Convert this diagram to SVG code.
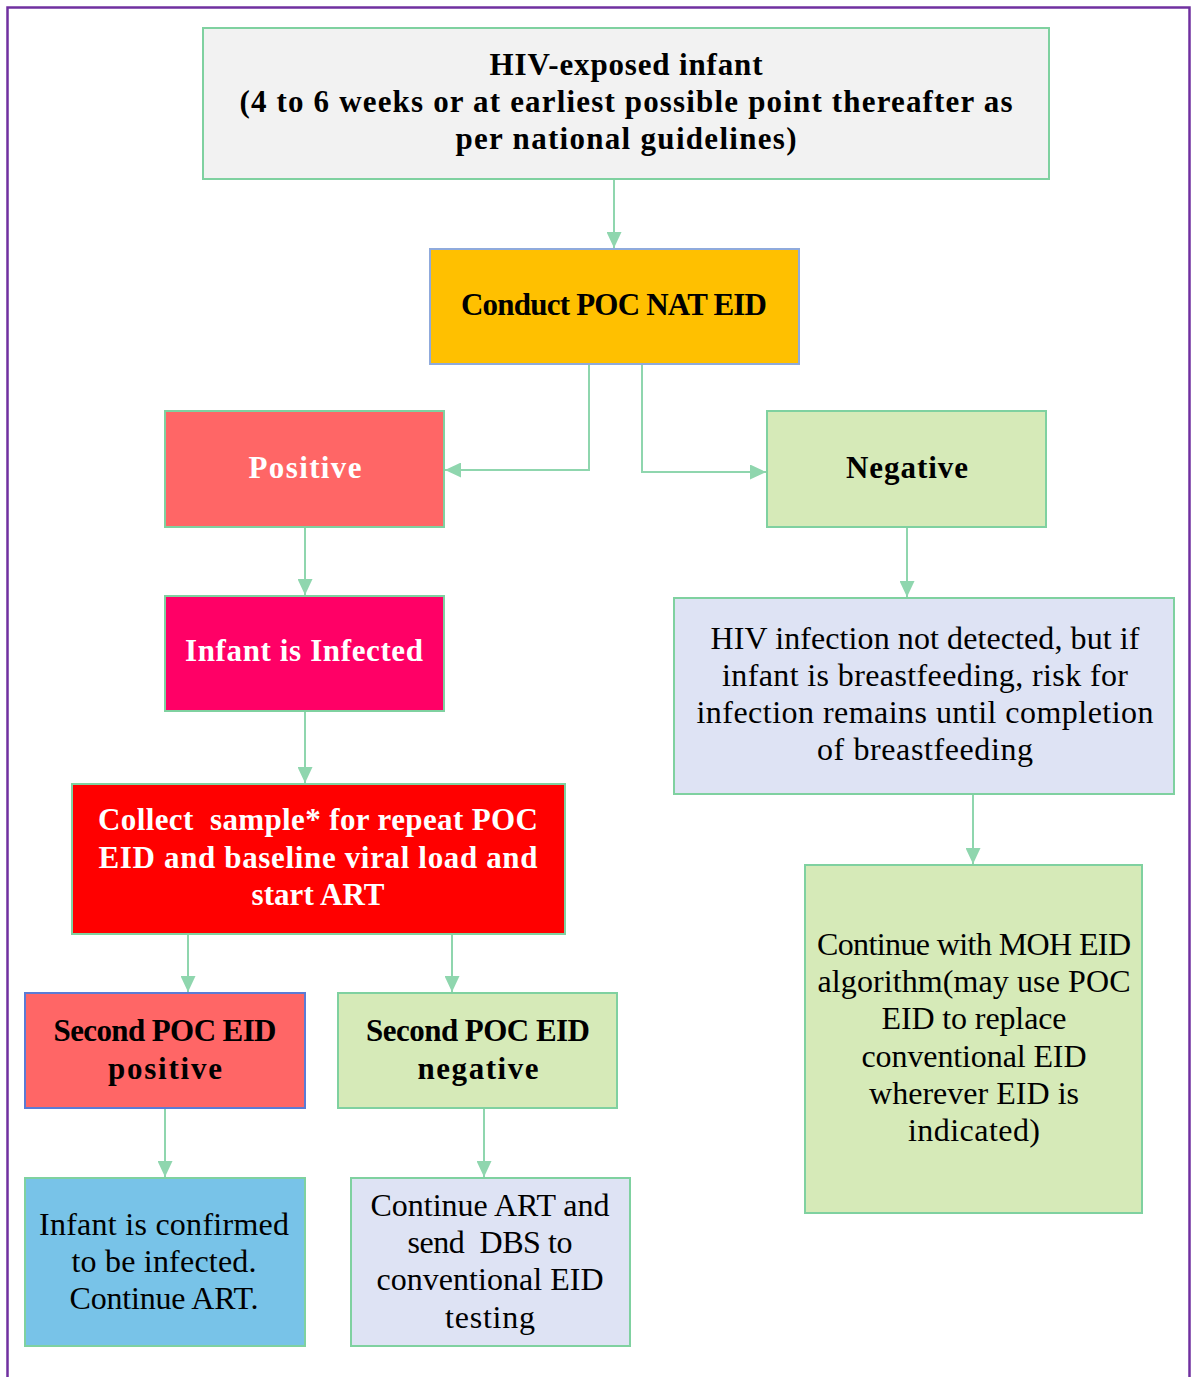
<svg xmlns="http://www.w3.org/2000/svg" width="1198" height="1377" viewBox="0 0 1198 1377">
  <defs>
    <marker id="arrow" viewBox="0 0 16 15" refX="16" refY="7.5" markerWidth="16" markerHeight="15" markerUnits="userSpaceOnUse" orient="auto">
      <path d="M0,0 L16,7.5 L0,15 Z" fill="#8FD6AE"/>
    </marker>
    <style>
      .box { stroke: #7FD1A0; stroke-width: 2; }
      .blueedge { stroke: #8FAADC; }
      .bold { font-family: "Liberation Serif", "Times New Roman", serif; font-weight: bold; font-size: 31px; text-anchor: middle; fill: #000; }
      .reg { font-family: "Liberation Serif", "Times New Roman", serif; font-size: 32px; text-anchor: middle; fill: #000; }
      .white { fill: #FFFFFF; }
      .pre { white-space: pre; }
      .conn { fill: none; stroke: #8FD6AE; stroke-width: 2; marker-end: url(#arrow); }
    </style>
  </defs>

  <rect width="1198" height="1377" fill="#FFFFFF"/>
  <!-- page frame -->
  <path d="M7.5,1390 V7.5 H1189.5 V1390" fill="none" stroke="#7030A0" stroke-width="2.5"/>

  <!-- connectors -->
  <g id="connectors">
    <path class="conn" d="M614,180 V248"/>
    <path class="conn" d="M589,365 V470 H445"/>
    <path class="conn" d="M642,365 V472 H766"/>
    <path class="conn" d="M305,528 V595"/>
    <path class="conn" d="M305,712 V783"/>
    <path class="conn" d="M907,528 V597"/>
    <path class="conn" d="M973,795 V864"/>
    <path class="conn" d="M188,935 V992"/>
    <path class="conn" d="M452,935 V992"/>
    <path class="conn" d="M165,1109 V1177"/>
    <path class="conn" d="M484,1109 V1177"/>
  </g>

  <g id="hiv-exposed-infant">
    <rect class="box" x="203" y="28" width="846" height="151" fill="#F2F2F2"/>
    <text class="bold" x="626" y="75" textLength="273">HIV-exposed infant</text>
    <text class="bold" x="626" y="112" textLength="773">(4 to 6 weeks or at earliest possible point thereafter as</text>
    <text class="bold" x="626" y="149" textLength="341">per national guidelines)</text>
  </g>

  <g id="conduct-poc">
    <rect class="box blueedge" x="430" y="249" width="369" height="115" fill="#FFC000"/>
    <text class="bold" x="614" y="315" textLength="306">Conduct POC NAT EID</text>
  </g>

  <g id="positive">
    <rect class="box" x="165" y="411" width="279" height="116" fill="#FF6666"/>
    <text class="bold white" x="305" y="478" textLength="113">Positive</text>
  </g>

  <g id="negative">
    <rect class="box" x="767" y="411" width="279" height="116" fill="#D6EAB8"/>
    <text class="bold" x="907" y="478" textLength="122">Negative</text>
  </g>

  <g id="infant-infected">
    <rect class="box" x="165" y="596" width="279" height="115" fill="#FF0066"/>
    <text class="bold white" x="304" y="661" textLength="238">Infant is Infected</text>
  </g>

  <g id="collect-sample">
    <rect class="box" x="72" y="784" width="493" height="150" fill="#FF0000"/>
    <text class="bold white pre" x="318" y="830" textLength="440">Collect  sample* for repeat POC</text>
    <text class="bold white" x="318" y="868" textLength="439">EID and baseline viral load and</text>
    <text class="bold white" x="318" y="905" textLength="133">start ART</text>
  </g>

  <g id="not-detected">
    <rect class="box" x="674" y="598" width="500" height="196" fill="#DEE3F4"/>
    <text class="reg" x="925" y="649" textLength="429">HIV infection not detected, but if</text>
    <text class="reg" x="925" y="686" textLength="406">infant is breastfeeding, risk for</text>
    <text class="reg" x="925" y="723" textLength="457">infection remains until completion</text>
    <text class="reg" x="925" y="760" textLength="216">of breastfeeding</text>
  </g>

  <g id="moh-algorithm">
    <rect class="box" x="805" y="865" width="337" height="348" fill="#D6EAB8"/>
    <text class="reg" x="974" y="955" textLength="314">Continue with MOH EID</text>
    <text class="reg" x="974" y="992" textLength="313">algorithm(may use POC</text>
    <text class="reg" x="974" y="1029" textLength="185">EID to replace</text>
    <text class="reg" x="974" y="1067" textLength="225">conventional EID</text>
    <text class="reg" x="974" y="1104" textLength="210">wherever EID is</text>
    <text class="reg" x="974" y="1141" textLength="132">indicated)</text>
  </g>

  <g id="second-positive">
    <rect class="box" x="25" y="993" width="280" height="115" fill="#FF6666" style="stroke:#5B7BD5"/>
    <text class="bold" x="165" y="1041" textLength="223">Second POC EID</text>
    <text class="bold" x="165" y="1079" textLength="114">positive</text>
  </g>

  <g id="second-negative">
    <rect class="box" x="338" y="993" width="279" height="115" fill="#D6EAB8"/>
    <text class="bold" x="478" y="1041" textLength="224">Second POC EID</text>
    <text class="bold" x="478" y="1079" textLength="121">negative</text>
  </g>

  <g id="confirmed-infected">
    <rect class="box" x="25" y="1178" width="280" height="168" fill="#78C3E8"/>
    <text class="reg" x="164" y="1235" textLength="250">Infant is confirmed</text>
    <text class="reg" x="164" y="1272" textLength="185">to be infected.</text>
    <text class="reg" x="164" y="1309" textLength="189">Continue ART.</text>
  </g>

  <g id="continue-art">
    <rect class="box" x="351" y="1178" width="279" height="168" fill="#DEE3F4"/>
    <text class="reg" x="490" y="1216" textLength="239">Continue ART and</text>
    <text class="reg pre" x="490" y="1253" textLength="165">send  DBS to</text>
    <text class="reg" x="490" y="1290" textLength="227">conventional EID</text>
    <text class="reg" x="490" y="1328" textLength="90">testing</text>
  </g>
</svg>
